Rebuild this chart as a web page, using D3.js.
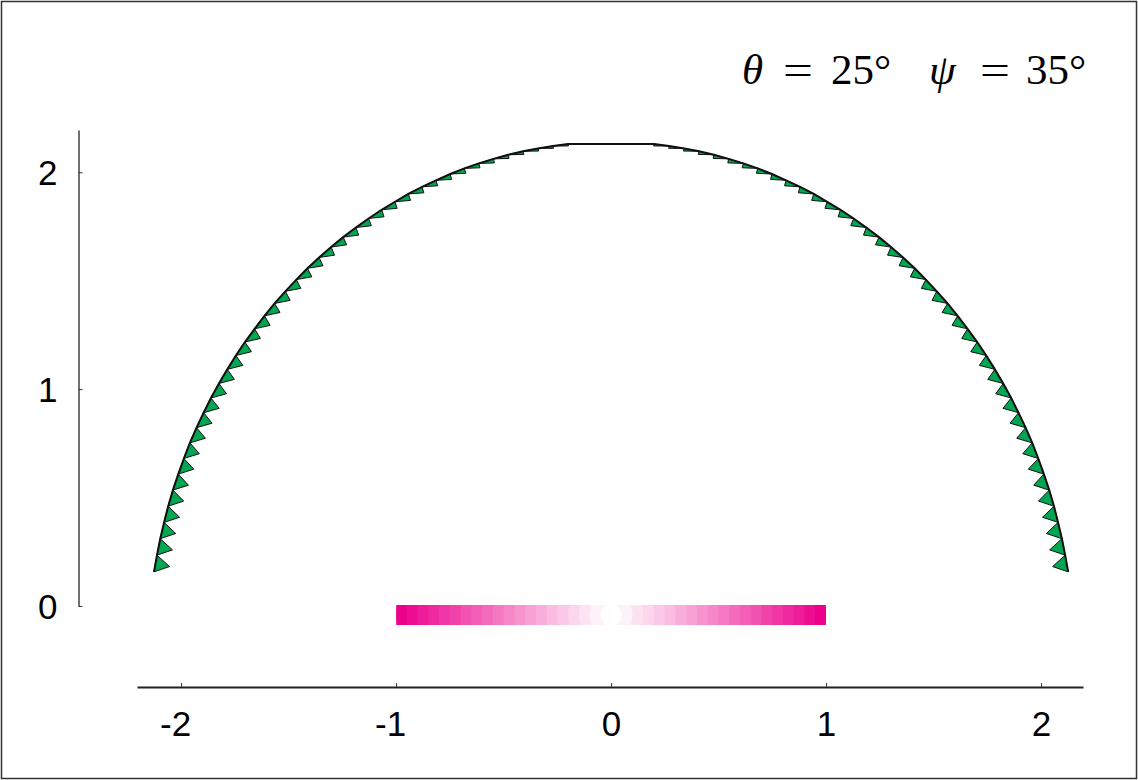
<!DOCTYPE html>
<html>
<head>
<meta charset="utf-8">
<script src="https://cdn.jsdelivr.net/npm/d3@7"></script>
<style>
  html, body { margin: 0; padding: 0; background: #fff; }
  svg { display: block; }
</style>
</head>
<body>
<svg id="chart" width="1138" height="780"></svg>
<script>
// Tick values for both axes
const xTicks = [-2, -1, 0, 1, 2];
const yTicks = [0, 1, 2];

// Crease curve, left foot to right foot
const arcX = [
  -2.126, -2.112, -2.097, -2.079, -2.060, -2.038, -2.013, -1.987, -1.959, -1.928,
  -1.895, -1.861, -1.824, -1.785, -1.745, -1.703, -1.658, -1.612, -1.565, -1.515,
  -1.464, -1.412, -1.358, -1.302, -1.246, -1.187, -1.128, -1.067, -1.005, -0.943,
  -0.879, -0.814, -0.748, -0.682, -0.615, -0.547, -0.478, -0.409, -0.340, -0.270,
  -0.200,
   0.200,  0.270,  0.340,  0.409,  0.478,  0.547,  0.615,  0.682,  0.748,  0.814,
   0.879,  0.943,  1.005,  1.067,  1.128,  1.187,  1.246,  1.302,  1.358,  1.412,
   1.464,  1.515,  1.565,  1.612,  1.658,  1.703,  1.745,  1.785,  1.824,  1.861,
   1.895,  1.928,  1.959,  1.987,  2.013,  2.038,  2.060,  2.079,  2.097,  2.112,
   2.126
];
const arcY = [
  0.157, 0.234, 0.310, 0.385, 0.460, 0.534, 0.608, 0.680, 0.752, 0.822,
  0.891, 0.959, 1.026, 1.091, 1.155, 1.217, 1.278, 1.338, 1.395, 1.451,
  1.505, 1.557, 1.607, 1.655, 1.701, 1.745, 1.787, 1.827, 1.864, 1.900,
  1.933, 1.963, 1.992, 2.018, 2.041, 2.062, 2.081, 2.097, 2.110, 2.121,
  2.130,
  2.130, 2.121, 2.110, 2.097, 2.081, 2.062, 2.041, 2.018, 1.992, 1.963,
  1.933, 1.900, 1.864, 1.827, 1.787, 1.745, 1.701, 1.655, 1.607, 1.557,
  1.505, 1.451, 1.395, 1.338, 1.278, 1.217, 1.155, 1.091, 1.026, 0.959,
  0.891, 0.822, 0.752, 0.680, 0.608, 0.534, 0.460, 0.385, 0.310, 0.234,
  0.157
];

// Shaded strip along the base: x extent, vertical extent, ring radii and shade (0 = white, 1 = full magenta)
const stripX = [-1, 1];
const stripY = [0.004, -0.088];
const ringRadius = [0.05, 0.10, 0.15, 0.20, 0.25, 0.30, 0.35, 0.40, 0.45, 0.50,
                    0.55, 0.60, 0.65, 0.70, 0.75, 0.80, 0.85, 0.90, 0.95, 1.00];
const ringShade  = [0.00, 0.05, 0.11, 0.16, 0.21, 0.26, 0.32, 0.37, 0.42, 0.47,
                    0.53, 0.58, 0.63, 0.68, 0.74, 0.79, 0.84, 0.89, 0.95, 1.00];

const W = 1138, H = 780;
const svg = d3.select("#chart");

const x = d3.scaleLinear().domain([-2.205, 2.195]).range([137, 1083]);
const y = d3.scaleLinear().domain([-0.374, 2.195]).range([687, 130]);

// outer frame
svg.append("rect")
  .attr("x", 1.5).attr("y", 1.5)
  .attr("width", W - 3).attr("height", H - 3)
  .attr("fill", "none").attr("stroke", "#333").attr("stroke-width", 1.5);

// ---- shaded strip (stepped radial shading clipped to a bar) ----
const magenta = d3.interpolateRgb("#ffffff", "#ec008c");
svg.append("clipPath").attr("id", "stripClip")
  .append("rect")
  .attr("x", x(stripX[0])).attr("y", y(stripY[0]))
  .attr("width", x(stripX[1]) - x(stripX[0]))
  .attr("height", y(stripY[1]) - y(stripY[0]));

const rings = ringRadius.map((r, i) => ({ r, s: ringShade[i] })).reverse();
const stripMid = (stripY[0] + stripY[1]) / 2;
svg.append("g").attr("clip-path", "url(#stripClip)")
  .selectAll("circle").data(rings).join("circle")
  .attr("cx", x(0))
  .attr("cy", y(stripMid))
  .attr("r", d => x(d.r) - x(0))
  .attr("fill", d => magenta(d.s));

// ---- crease curve with its teeth ----
const pts = arcX.map((v, i) => [x(v), y(arcY[i])]);

const teeth = [];
for (let i = 0; i < pts.length - 1; i++) {
  const p = pts[i], q = pts[i + 1];
  if (arcX[i] < 0 && arcX[i + 1] > 0) continue;      // flat crown carries no teeth
  const left = arcX[i] < 0;
  const A = left ? p : q;                              // lower end of the segment
  const B = left ? q : p;
  const dx = B[0] - A[0], dy = B[1] - A[1];
  const len = Math.hypot(dx, dy);
  const s = Math.abs(dy) / len;
  const dir = left ? 1 : -1;
  const C = [A[0] + dir * 15.5, A[1] - 5.5 * s * s];
  teeth.push([A, B, C]);
}

svg.append("g").selectAll("path").data(teeth).join("path")
  .attr("d", d => "M" + d.map(c => c.join(",")).join("L") + "Z")
  .attr("fill", "#00a651")
  .attr("stroke", "#111")
  .attr("stroke-width", 1)
  .attr("stroke-linejoin", "miter");

svg.append("path")
  .datum(pts)
  .attr("d", d3.line())
  .attr("fill", "none")
  .attr("stroke", "#111")
  .attr("stroke-width", 2);

// ---- axes ----
const axisFont = "'Liberation Sans', Arial, sans-serif";

const yAxisScale = y.copy().domain([0, 2.195]).range([y(0), y(2.195)]);
const gy = svg.append("g").attr("transform", "translate(78.5,0)")
  .call(d3.axisLeft(yAxisScale).tickValues(yTicks).tickFormat(d3.format("d"))
    .tickSizeInner(-4).tickSizeOuter(0).tickPadding(21));
gy.select(".domain").attr("stroke", "#333").attr("stroke-width", 1.4);
gy.selectAll(".tick line").attr("stroke", "#333").attr("stroke-width", 1);
gy.selectAll(".tick text")
  .attr("font-family", axisFont).attr("font-size", 35).attr("fill", "#000")
  .attr("dy", "0.36em");

const gx = svg.append("g").attr("transform", "translate(0,687)")
  .call(d3.axisBottom(x).tickValues(xTicks).tickFormat(d3.format("d"))
    .tickSizeInner(-4).tickSizeOuter(0).tickPadding(24));
gx.select(".domain").attr("stroke", "#222").attr("stroke-width", 1.8);
gx.selectAll(".tick line").attr("stroke", "#333").attr("stroke-width", 1);
// digits sit centred on their tick; a leading minus hangs to the left
gx.selectAll(".tick text")
  .attr("font-family", axisFont).attr("font-size", 35).attr("fill", "#000")
  .attr("x", d => d < 0 ? -6 : 0)
  .text(d => d < 0 ? "-" + Math.abs(d) : String(d));

// ---- angle annotation ----
const serif = "'Liberation Serif', 'Times New Roman', serif";
const title = svg.append("g").attr("font-family", serif).attr("font-size", 43).attr("fill", "#000");
const base = 84;
title.append("text").attr("x", 742).attr("y", base).attr("font-style", "italic").text("θ");
title.append("text").attr("x", 783).attr("y", base).attr("textLength", 30).attr("lengthAdjust", "spacingAndGlyphs").text("=");
title.append("text").attr("x", 831).attr("y", base).text("25°");
title.append("text").attr("x", 929).attr("y", base).attr("font-style", "italic").text("ψ");
title.append("text").attr("x", 980).attr("y", base).attr("textLength", 30).attr("lengthAdjust", "spacingAndGlyphs").text("=");
title.append("text").attr("x", 1026).attr("y", base).text("35°");
</script>
</body>
</html>
